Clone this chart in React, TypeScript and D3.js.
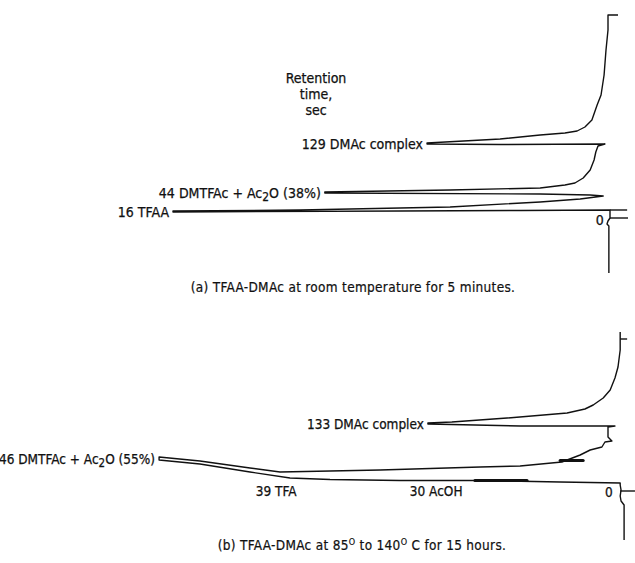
import React from "react";
import * as d3 from "d3";

// Chromatogram traces: [signal (arbitrary, 0 = baseline, grows leftwards), chart time (sec-scale units, grows upwards)]
const traceA: [number, number][] = [
  [-0.2, -126], [-0.2, -32], [0.23, -28], [0, -22], [-0.46, -16], [-0.46, 0],
  [20, -1], [47.8, -2], [100, -4],
  [100, -2], [70.8, 0], [36.3, 6], [15.6, 16], [6.4, 22], [1.1, 28],
  [4.1, 30], [15.6, 32], [65.1, 34],
  [65.1, 36], [36.3, 40], [15.6, 44], [9.9, 50], [7.6, 54], [5.7, 64], [4.1, 80], [3.2, 100], [2.8, 116], [2.3, 128],
  [0.7, 132], [24.8, 131], [41.6, 132],
  [41.6, 134], [24.8, 142], [15.6, 150], [9.9, 154], [7.1, 158], [5.3, 166], [3.7, 180], [2.5, 210], [1.6, 230], [0.9, 270], [0.46, 320], [0, 360], [0, 390],
  [-2.3, 390],
];

const traceB: [number, number][] = [
  [-3.7, -114], [-3.7, -44], [-3.0, -36], [-2.8, -26], [-3.0, -14], [-2.8, -4], [-2.8, 0],
  [11.0, 2], [29.4, 5], [47.8, 5], [63.9, 7], [73.1, 10], [82.3, 22], [93.8, 38], [103.2, 46],
  [103.2, 52], [93.8, 44], [82.3, 30], [75.4, 22], [52.4, 26], [29.4, 32], [20.2, 34], [10.6, 42], [6.4, 56], [4.1, 66], [1.4, 72], [0.7, 82], [-0.9, 84], [0, 92], [0, 112], [-1.6, 114],
  [20.2, 114], [41.4, 118],
  [41.4, 120], [35.9, 122], [23.2, 130], [9.4, 140], [5.3, 148], [3.4, 156], [1.1, 170], [-0.5, 186], [-1.6, 210], [-2.3, 232], [-2.8, 266], [-2.8, 302],
];

// small marker ticks: [time, signal start, signal end]
const ticksA: [number, number, number][] = [[0, -0.46, -4.4], [-16, -0.46, -4.6]];
const ticksB: [number, number, number][] = [[-16, -2.8, -6.2], [288, -2.8, -4.4]];

// thick smudges (small peaks): [time, signal start, signal end]
const blobsB: [number, number, number][] = [[5, 18.6, 30.6], [45, 5.7, 11]];

// peak labels: [label, signal of tip, time of tip]
const peaksA: [string, number, number][] = [
  ["16 TFAA", 100, -4],
  ["44 DMTFAc + Ac2O (38%)", 65.1, 34],
  ["129 DMAc complex", 41.6, 132],
];
const peaksB: [string, number, number][] = [
  ["46 DMTFAc + Ac2O (55%)", 103.2, 49],
  ["133 DMAc complex", 41.4, 119],
];
// labels placed under the baseline: [label, signal centre, time]
const minorB: [string, number, number][] = [
  ["39 TFA", 76.3, -16],
  ["30 AcOH", 39.5, -16],
];

const axisTitle = ["Retention", "time,", "sec"];
const captionA = "(a) TFAA-DMAc at room temperature for 5 minutes.";

const FONT = "'DejaVu Sans Condensed', 'DejaVu Sans', sans-serif";
const INK = "#111";

function Label({ text, x, y, anchor, size }: { text: string; x: number; y: number; anchor: string; size: number }) {
  const parts = text.split("Ac2O");
  const common = {
    x, y, textAnchor: anchor, fontSize: size, fontFamily: FONT, fontStretch: "condensed", fill: INK,
    stroke: INK, strokeWidth: 0.25,
  } as any;
  if (parts.length === 1) return <text {...common}>{text}</text>;
  return (
    <text {...common}>
      {parts[0]}Ac
      <tspan dy={3} fontSize={size * 0.85}>2</tspan>
      <tspan dy={-3}>O{parts[1]}</tspan>
    </text>
  );
}

function Panel({
  trace, ticks, blobs, peaks, minor, y0, zeroLabel, size,
}: {
  trace: [number, number][]; ticks: [number, number, number][]; blobs: [number, number, number][];
  peaks: [string, number, number][]; minor: [string, number, number][]; y0: number; zeroLabel: [number, number]; size: number;
}) {
  const x = d3.scaleLinear().domain([0, 100]).range([608, 173]);
  const y = d3.scaleLinear().domain([0, 400]).range([y0, y0 - 200]);
  const line = d3.line<[number, number]>().x((d) => x(d[0])).y((d) => y(d[1])).curve(d3.curveLinear);
  return (
    <g>
      <path d={line(trace) || ""} fill="none" stroke={INK} strokeWidth={1.4} strokeLinejoin="round" />
      {ticks.map((t, i) => (
        <line key={i} x1={x(t[1])} x2={x(t[2])} y1={y(t[0])} y2={y(t[0])} stroke={INK} strokeWidth={1.4} />
      ))}
      {blobs.map((b, i) => (
        <line key={i} x1={x(b[1])} x2={x(b[2])} y1={y(b[0])} y2={y(b[0])} stroke={INK} strokeWidth={3} strokeLinecap="round" />
      ))}
      {peaks.map((p, i) => (
        <Label key={i} text={p[0]} x={x(p[1]) - 4} y={y(p[2]) + 5} anchor="end" size={size} />
      ))}
      {minor.map((p, i) => (
        <Label key={i} text={p[0]} x={x(p[1])} y={y(p[2]) + 5} anchor="middle" size={size} />
      ))}
      <Label text="0" x={x(zeroLabel[0])} y={y(zeroLabel[1]) + 5} anchor="middle" size={size} />
    </g>
  );
}

export default function App() {
  return (
    <svg width={635} height={563} style={{ position: "absolute", left: 0, top: 0, background: "#fff" }}>
      <rect width={635} height={563} fill="#fff" />
      {axisTitle.map((t, i) => (
        <text key={t} x={316} y={83 + i * 16} textAnchor="middle" fontSize={14} fontFamily={FONT} fontStretch="condensed" fill={INK} stroke={INK} strokeWidth={0.25}>
          {t}
        </text>
      ))}
      <Panel trace={traceA} ticks={ticksA} blobs={[]} peaks={peaksA} minor={[]} y0={210} zeroLabel={[1.9, -20]} size={14} />
      <text x={353} y={292} textAnchor="middle" fontSize={13.5} letterSpacing={0.3} fontFamily={FONT} fontStretch="condensed" fill={INK} stroke={INK} strokeWidth={0.2}>
        {captionA}
      </text>
      <Panel trace={traceB} ticks={ticksB} blobs={blobsB} peaks={peaksB} minor={minorB} y0={483} zeroLabel={[-0.2, -18]} size={13.5} />
      <text x={362} y={550} textAnchor="middle" fontSize={13.5} letterSpacing={0.3} fontFamily={FONT} fontStretch="condensed" fill={INK} stroke={INK} strokeWidth={0.2}>
        (b) TFAA-DMAc at 85<tspan dy={-5} fontSize={9}>O</tspan>
        <tspan dy={5}> to 140</tspan>
        <tspan dy={-5} fontSize={9}>O</tspan>
        <tspan dy={5}> C for 15 hours.</tspan>
      </text>
    </svg>
  );
}
